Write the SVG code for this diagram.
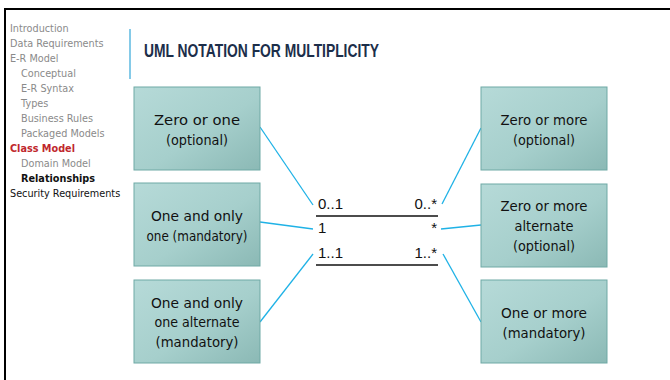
<svg xmlns="http://www.w3.org/2000/svg" width="670" height="380" viewBox="0 0 670 380">
<defs>
<linearGradient id="boxg" x1="0" y1="0" x2="1" y2="1">
<stop offset="0" stop-color="#b6dad8"/>
<stop offset="0.55" stop-color="#a6cfcc"/>
<stop offset="1" stop-color="#8bb9b5"/>
</linearGradient>
<linearGradient id="midline" x1="0" y1="0" x2="1" y2="0">
<stop offset="0" stop-color="#9a9a9a"/>
<stop offset="0.3" stop-color="#333"/>
<stop offset="1" stop-color="#222"/>
</linearGradient>
<style>
.nav{font-family:"DejaVu Sans","Liberation Sans",sans-serif;font-size:9.7px;fill:#8a8a8a}
.navb{font-weight:bold;fill:#111}
.navr{font-weight:bold;fill:#c0272d}
.box rect{fill:url(#boxg);stroke:#6fa9a5;stroke-width:1}
.box text{font-family:"DejaVu Sans","Liberation Sans",sans-serif;font-size:14px;fill:#111;text-anchor:middle}
.conn line{stroke:#1fb2e6;stroke-width:1.3}
.mult{font-family:"Liberation Sans",Arial,sans-serif;font-size:15px;fill:#111}
.rule{stroke:#111;stroke-width:1.4}
</style>
</defs>
<rect width="670" height="380" fill="#fff"/>
<line x1="4" y1="9" x2="670" y2="9" stroke="#000" stroke-width="2"/>
<line x1="5" y1="8" x2="5" y2="380" stroke="#000" stroke-width="2"/>

<g id="sidebar">
<text class="nav" x="10" y="32">Introduction</text>
<text class="nav" x="10" y="47">Data Requirements</text>
<text class="nav" x="10" y="62">E-R Model</text>
<text class="nav" x="21" y="77">Conceptual</text>
<text class="nav" x="21" y="92">E-R Syntax</text>
<text class="nav" x="21" y="107">Types</text>
<text class="nav" x="21" y="122">Business Rules</text>
<text class="nav" x="21" y="137">Packaged Models</text>
<text class="nav navr" x="10" y="152">Class Model</text>
<text class="nav" x="21" y="167">Domain Model</text>
<text class="nav navb" x="21" y="182">Relationships</text>
<text class="nav" x="10" y="197" style="fill:#111">Security Requirements</text>
</g>

<line x1="130" y1="29" x2="130" y2="79" stroke="#5cb8e0" stroke-width="1.5"/>
<text x="144" y="57" font-family="'Liberation Sans',Arial,sans-serif" font-size="19" font-weight="bold" fill="#1c2e4a" textLength="235" lengthAdjust="spacingAndGlyphs">UML NOTATION FOR MULTIPLICITY</text>

<g id="connectors" class="conn">
<line x1="260" y1="127" x2="313" y2="205"/>
<line x1="260" y1="222" x2="313" y2="229"/>
<line x1="260" y1="322" x2="313" y2="254"/>
<line x1="442" y1="204" x2="481" y2="128"/>
<line x1="441" y1="229" x2="481" y2="225"/>
<line x1="443" y1="254" x2="481" y2="322"/>
</g>

<g id="multiplicity">
<text class="mult" x="318" y="209">0..1</text>
<text class="mult" x="437" y="209" text-anchor="end">0..*</text>
<line class="rule" x1="316" y1="216" x2="438" y2="216"/>
<text class="mult" x="318" y="233">1</text>
<text class="mult" x="437" y="233" text-anchor="end">*</text>
<line x1="316" y1="241" x2="438" y2="241" stroke="url(#midline)" stroke-width="1.6"/>
<text class="mult" x="318" y="258">1..1</text>
<text class="mult" x="437" y="258" text-anchor="end">1..*</text>
<line class="rule" x1="316" y1="265" x2="438" y2="265"/>
</g>

<g id="zero-or-one" class="box">
<rect x="134" y="87" width="126" height="83"/>
<text x="197" y="125" textLength="86" lengthAdjust="spacingAndGlyphs">Zero or one</text>
<text x="197" y="145" textLength="62" lengthAdjust="spacingAndGlyphs">(optional)</text>
</g>
<g id="one-and-only-one" class="box">
<rect x="134" y="183" width="126" height="83"/>
<text x="197" y="221" textLength="92" lengthAdjust="spacingAndGlyphs">One and only</text>
<text x="197" y="241" textLength="101" lengthAdjust="spacingAndGlyphs">one (mandatory)</text>
</g>
<g id="one-and-only-one-alternate" class="box">
<rect x="134" y="280" width="126" height="83"/>
<text x="197" y="307.5" textLength="92" lengthAdjust="spacingAndGlyphs">One and only</text>
<text x="197" y="327" textLength="85" lengthAdjust="spacingAndGlyphs">one alternate</text>
<text x="197" y="346.5" textLength="83" lengthAdjust="spacingAndGlyphs">(mandatory)</text>
</g>
<g id="zero-or-more" class="box">
<rect x="481" y="87" width="126" height="83"/>
<text x="544" y="125" textLength="87" lengthAdjust="spacingAndGlyphs">Zero or more</text>
<text x="544" y="145" textLength="62" lengthAdjust="spacingAndGlyphs">(optional)</text>
</g>
<g id="zero-or-more-alternate" class="box">
<rect x="481" y="184" width="126" height="83"/>
<text x="544" y="211" textLength="87" lengthAdjust="spacingAndGlyphs">Zero or more</text>
<text x="544" y="231" textLength="59" lengthAdjust="spacingAndGlyphs">alternate</text>
<text x="544" y="250.5" textLength="62" lengthAdjust="spacingAndGlyphs">(optional)</text>
</g>
<g id="one-or-more" class="box">
<rect x="481" y="280" width="126" height="83"/>
<text x="544" y="318" textLength="86" lengthAdjust="spacingAndGlyphs">One or more</text>
<text x="544" y="338" textLength="83" lengthAdjust="spacingAndGlyphs">(mandatory)</text>
</g>
</svg>
